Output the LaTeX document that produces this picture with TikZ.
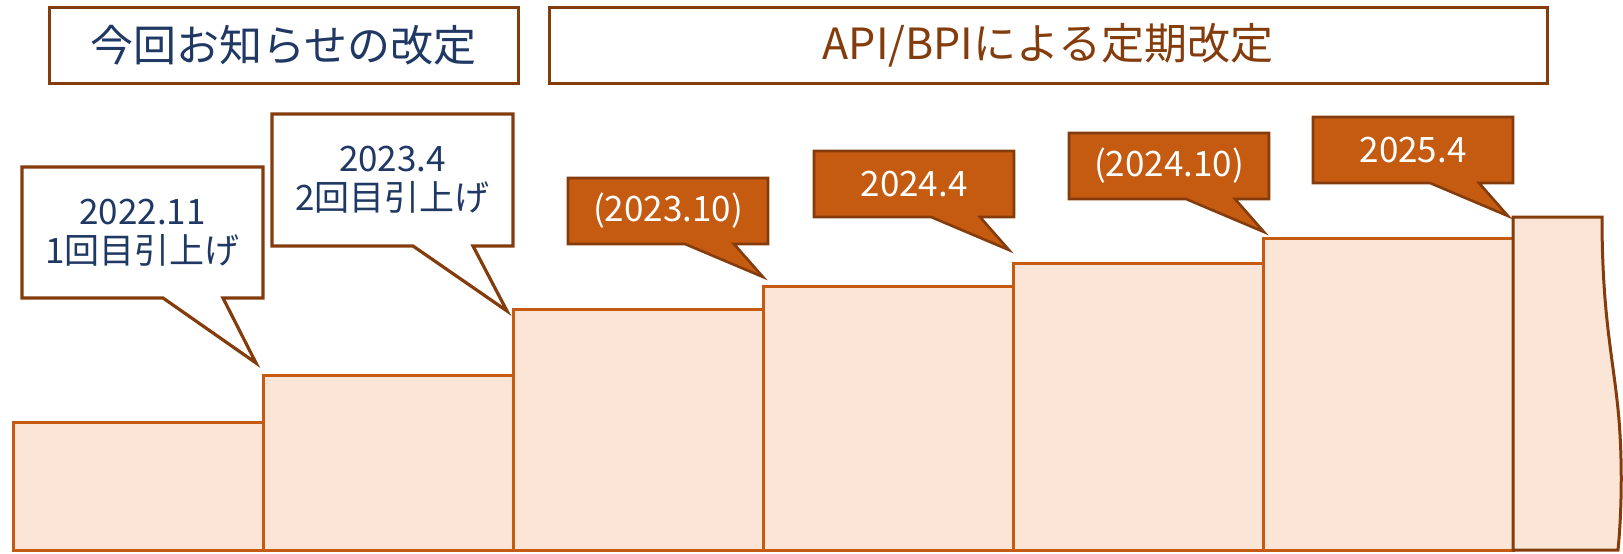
\documentclass[tikz,border=0pt]{standalone}
\usepackage{fontspec}
\setmainfont{Noto Sans CJK JP}
\definecolor{navy}{HTML}{1F3864}
\definecolor{rust}{HTML}{843C0C}
\definecolor{burnt}{HTML}{C55A11}
\definecolor{peach}{HTML}{FBE5D6}
\begin{document}
\begin{tikzpicture}[x=1pt,y=-1pt,
  titlebox/.style={draw=rust, line width=3pt, fill=white, inner sep=0pt,
    font=\fontsize{43}{48}\selectfont},
  stepbar/.style={draw=burnt, fill=peach, line width=3pt, line join=miter},
  lastbar/.style={draw=rust, fill=peach, line width=3pt, line join=miter},
  wcall/.style={draw=rust, fill=white, line width=3.2pt, line join=miter},
  ocall/.style={draw=rust, fill=burnt, line width=2.6pt, line join=miter},
  ctext/.style={font=\fontsize{35}{39}\selectfont, align=center, inner sep=0pt}]
\useasboundingbox (0,0) rectangle (1623,554);

% headings
\node[titlebox, text=navy, minimum width=469pt, minimum height=76pt] (t1) at (283.5,45) {今回お知らせの改定};
\node[titlebox, text=rust, minimum width=998pt, minimum height=76pt] (t2) at (1048,45) {API/BPIによる定期改定};

% staircase of rate steps
\draw[stepbar] (13,422) rectangle (263,550);
\draw[stepbar] (263,375) rectangle (513,550);
\draw[stepbar] (513,309) rectangle (763,550);
\draw[stepbar] (763,286) rectangle (1013,550);
\draw[stepbar] (1013,263) rectangle (1263,550);
\draw[stepbar] (1263,238) rectangle (1513,550);
\draw[lastbar] (1513,550) -- (1513,217) -- (1602,217)
  .. controls (1602,320) and (1614,360) .. (1619,420)
  .. controls (1623,470) and (1621,520) .. (1618,550) -- cycle;

% white speech bubbles
\draw[wcall] (22,167) -- (263,167) -- (263,298) -- (223,298) -- (256,363)
  -- (163,298) -- (22,298) -- cycle;
\node[ctext, text=navy] (c1) at (142.5,232.5) {2022.11\\1回目引上げ};

\draw[wcall] (272,114) -- (513,114) -- (513,246) -- (473,246) -- (507,311)
  -- (413,246) -- (272,246) -- cycle;
\node[ctext, text=navy] (c2) at (392.5,180) {2023.4\\2回目引上げ};

% orange speech bubbles
\foreach \L/\T/\lab/\nm in {568/178/(2023.10)/c3, 814/151/2024.4/c4,
    1069/133/(2024.10)/c5, 1313/117/2025.4/c6}{
  \draw[ocall] (\L,\T) -- (\L+200,\T) -- (\L+200,\T+66) -- (\L+166,\T+66)
    -- (\L+195,\T+99) -- (\L+117,\T+66) -- (\L,\T+66) -- cycle;
  \node[ctext, text=white] (\nm) at (\L+100,\T+33) {\lab};
}
\end{tikzpicture}
\end{document}
